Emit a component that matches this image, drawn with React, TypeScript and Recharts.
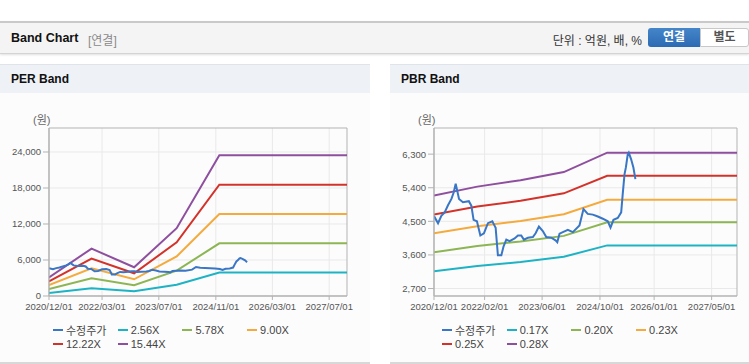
import { FC } from 'react'
import { LineChart, Line, XAxis, YAxis, CartesianGrid, ReferenceArea } from 'recharts'

// band break dates (yearly) and the last day of the axis
const bandDates = ['2020-12-01', '2021-12-01', '2022-12-01', '2023-12-01', '2024-12-01', '2027-12-01']

// adjusted price (수정주가)
const priceDates = [
    '2020-12-01', '2021-01-04', '2021-02-01', '2021-03-01', '2021-03-29', '2021-04-27', '2021-05-16', '2021-06-02',
    '2021-06-30', '2021-08-02', '2021-09-21', '2021-10-12', '2021-10-31', '2021-11-28', '2021-12-27', '2022-01-26',
    '2022-03-01', '2022-04-07', '2022-05-05', '2022-05-24', '2022-06-22', '2022-07-11', '2022-08-03', '2022-08-31',
    '2022-10-12', '2022-11-09', '2022-12-07', '2022-12-29', '2023-02-01', '2023-03-15', '2023-04-07', '2023-05-05',
    '2023-06-07', '2023-07-06', '2023-08-17', '2023-09-22', '2023-10-07', '2023-10-26', '2023-11-23', '2024-01-04',
    '2024-02-15', '2024-04-11', '2024-05-15', '2024-06-20', '2024-08-02', '2024-09-13', '2024-10-25', '2024-12-06',
    '2024-12-29', '2025-01-23', '2025-02-28', '2025-03-29', '2025-04-11', '2025-04-26', '2025-05-08', '2025-05-23',
    '2025-06-01', '2025-06-21', '2025-07-10', '2025-07-27',
]
const priceValues = [
    4640, 4450, 4650, 4740, 4930, 5100, 5270, 5510,
    5100, 5010, 5040, 4920, 4540, 4500, 4120, 4180,
    4450, 4500, 4330, 3590, 3590, 3830, 4010, 3970,
    4040, 4120, 4120, 4010, 4060, 4080, 4180, 4360,
    4240, 4080, 4060, 3990, 3940, 4170, 4210, 4270,
    4210, 4390, 4830, 4700, 4680, 4630, 4570, 4500,
    4330, 4540, 4590, 4740, 5230, 5760, 5950, 6290,
    6340, 6160, 5940, 5630,
]

// PER bands
const per256 = [510, 1310, 790, 1870, 3900, 3900]
const per578 = [1160, 2960, 1790, 4230, 8780, 8780]
const per900 = [1810, 4610, 2790, 6590, 13650, 13650]
const per1222 = [2450, 6250, 3790, 8940, 18560, 18560]
const per1544 = [3100, 7900, 4790, 11300, 23450, 23450]

// PBR bands
const pbr017 = [3165, 3305, 3410, 3550, 3856, 3856]
const pbr020 = [3670, 3840, 3960, 4110, 4476, 4476]
const pbr023 = [4183, 4370, 4510, 4690, 5080, 5080]
const pbr025 = [4680, 4895, 5050, 5250, 5720, 5720]
const pbr028 = [5190, 5430, 5600, 5820, 6340, 6340]

const perTicksX = ['2020-12-01', '2022-03-01', '2023-07-01', '2024-11-01', '2026-03-01', '2027-07-01']
const pbrTicksX = ['2020-12-01', '2022-02-01', '2023-06-01', '2024-10-01', '2026-01-01', '2027-05-01']
const perTicksY = [0, 6000, 12000, 18000, 24000]
const pbrTicksY = [2700, 3600, 4500, 5400, 6300]

const perLabels = ['수정주가', '2.56X', '5.78X', '9.00X', '12.22X', '15.44X']
const pbrLabels = ['수정주가', '0.17X', '0.20X', '0.23X', '0.25X', '0.28X']

const COLORS = ['#3a76c6', '#1db3c4', '#8db553', '#f4aa3c', '#d3322b', '#8e4f9e']

const ts = (s: string) => {
    const [y, m, d] = s.split('-').map(Number)
    return Date.UTC(y, m - 1, d)
}
const pairs = (dates: string[], values: number[]) => dates.map((d, i) => ({ t: ts(d), v: values[i] }))
const fmtDate = (t: number) => {
    const d = new Date(t)
    const p = (n: number) => String(n).padStart(2, '0')
    return `${d.getUTCFullYear()}/${p(d.getUTCMonth() + 1)}/${p(d.getUTCDate())}`
}
const fmtNum = (v: number) => v.toLocaleString('en-US')

const X0 = ts(bandDates[0])
const X1 = ts(bandDates[bandDates.length - 1])
const FONT = '"Liberation Sans", Arial, sans-serif'
const KFONT = '"Liberation Sans", "Noto Sans CJK KR", sans-serif'

interface PropsPanel {
    left: number
    width: number
    title: string
    bands: number[][]
    labels: string[]
    ticksX: string[]
    ticksY: number[]
    domainY: [number, number]
    yAxisWidth: number
    marginRight: number
    legendLeft: number
}

const Panel: FC<PropsPanel> = ({ left, width, title, bands, labels, ticksX, ticksY, domainY, yAxisWidth, marginRight, legendLeft }) => {
    const series = [pairs(priceDates, priceValues), ...bands.map(b => pairs(bandDates, b))]
    const drawOrder = [1, 2, 3, 4, 5, 0]
    return (
        <div style={{ position: 'absolute', left, top: 64, width, height: 298, background: '#fcfcfc', borderBottom: '2px solid #d8d8d8' }}>
            <div style={{ height: 28, background: '#eef2f7', borderTop: '1px solid #dfe4ea', fontFamily: FONT, fontWeight: 'bold', fontSize: 12, lineHeight: '29px', paddingLeft: 11, color: '#111' }}>
                {title}
            </div>
            <div style={{ position: 'absolute', left: yAxisWidth - 16, top: 47, fontFamily: KFONT, fontSize: 11, color: '#666' }}>(원)</div>
            <div style={{ position: 'absolute', left: 0, top: 36 }}>
                <LineChart width={width} height={220} margin={{ top: 28, right: marginRight, bottom: 0, left: 0 }}>
                    <CartesianGrid stroke="#e9e9e9" verticalValues={ticksX.map(ts)} horizontalValues={ticksY} />
                    <XAxis
                        type="number"
                        dataKey="t"
                        domain={[X0, X1]}
                        ticks={ticksX.map(ts)}
                        tickFormatter={fmtDate}
                        height={24}
                        tickSize={4}
                        tickMargin={3}
                        stroke="#b3b3b3"
                        tick={{ fill: '#555', fontSize: 9.5, fontFamily: FONT }}
                        allowDataOverflow
                        interval={0}
                    />
                    <YAxis
                        type="number"
                        domain={domainY}
                        ticks={ticksY}
                        tickFormatter={fmtNum}
                        width={yAxisWidth}
                        tickSize={6}
                        tickMargin={2}
                        stroke="#b3b3b3"
                        tick={{ fill: '#555', fontSize: 9.5, fontFamily: FONT }}
                        allowDataOverflow
                        interval={0}
                    />
                    <ReferenceArea x1={X0} x2={X1} y1={domainY[0]} y2={domainY[1]} fill="none" stroke="#b3b3b3" strokeWidth={1} />
                    {drawOrder.map(i => (
                        <Line
                            key={labels[i]}
                            data={series[i]}
                            dataKey="v"
                            name={labels[i]}
                            type="linear"
                            stroke={COLORS[i]}
                            strokeWidth={2}
                            dot={false}
                            activeDot={false}
                            isAnimationActive={false}
                        />
                    ))}
                </LineChart>
            </div>
            <div style={{ position: 'absolute', left: legendLeft, top: 259, width: 270, fontFamily: KFONT, fontSize: 11, color: '#444' }}>
                {labels.map((l, i) => (
                    <div key={l} style={{ position: 'absolute', left: (i % 4) * 64.7, top: Math.floor(i / 4) * 13.5, whiteSpace: 'nowrap', display: 'flex', alignItems: 'center', height: 14 }}>
                        <span style={{ display: 'inline-block', width: 10, height: 2, background: COLORS[i], marginRight: 3 }} />
                        <span>{l}</span>
                    </div>
                ))}
            </div>
        </div>
    )
}

const App: FC = () => {
    return (
        <div style={{ position: 'absolute', left: 0, top: 0, width: 749, height: 364, background: '#fff', overflow: 'hidden' }}>
            <div style={{ position: 'absolute', left: 0, top: 21, width: 749, height: 30, background: '#f4f4f4', borderTop: '2px solid #c9c9c9', borderBottom: '1px solid #d4d4d4', boxShadow: '0 1px 2px rgba(0,0,0,0.12)' }}>
                <span style={{ position: 'absolute', left: 11, top: 8, fontFamily: FONT, fontWeight: 'bold', fontSize: 12.5, color: '#111' }}>Band Chart</span>
                <span style={{ position: 'absolute', left: 88, top: 8, fontFamily: KFONT, fontSize: 12, color: '#8a8a8a' }}>[연결]</span>
                <span style={{ position: 'absolute', right: 107, top: 8, fontFamily: KFONT, fontSize: 12, color: '#333' }}>단위 : 억원, 배, %</span>
                <div style={{ position: 'absolute', left: 648, top: 5, width: 52, height: 19, background: 'linear-gradient(#4585c9, #2c6bb3)', borderRadius: '3px 0 0 3px', color: '#fff', fontFamily: KFONT, fontWeight: 'bold', fontSize: 12, textAlign: 'center', lineHeight: '19px' }}>연결</div>
                <div style={{ position: 'absolute', left: 700, top: 5, width: 47, height: 17, background: '#fff', border: '1px solid #c8c8c8', borderRadius: '0 3px 3px 0', color: '#555', fontFamily: KFONT, fontWeight: 'bold', fontSize: 12, textAlign: 'center', lineHeight: '17px' }}>별도</div>
            </div>
            <Panel
                left={0}
                width={370}
                title="PER Band"
                bands={[per256, per578, per900, per1222, per1544]}
                labels={perLabels}
                ticksX={perTicksX}
                ticksY={perTicksY}
                domainY={[0, 28000]}
                yAxisWidth={49}
                marginRight={23}
                legendLeft={53}
            />
            <Panel
                left={390}
                width={359}
                title="PBR Band"
                bands={[pbr017, pbr020, pbr023, pbr025, pbr028]}
                labels={pbrLabels}
                ticksX={pbrTicksX}
                ticksY={pbrTicksY}
                domainY={[2500, 7000]}
                yAxisWidth={44}
                marginRight={12}
                legendLeft={52}
            />
        </div>
    )
}

export default App
